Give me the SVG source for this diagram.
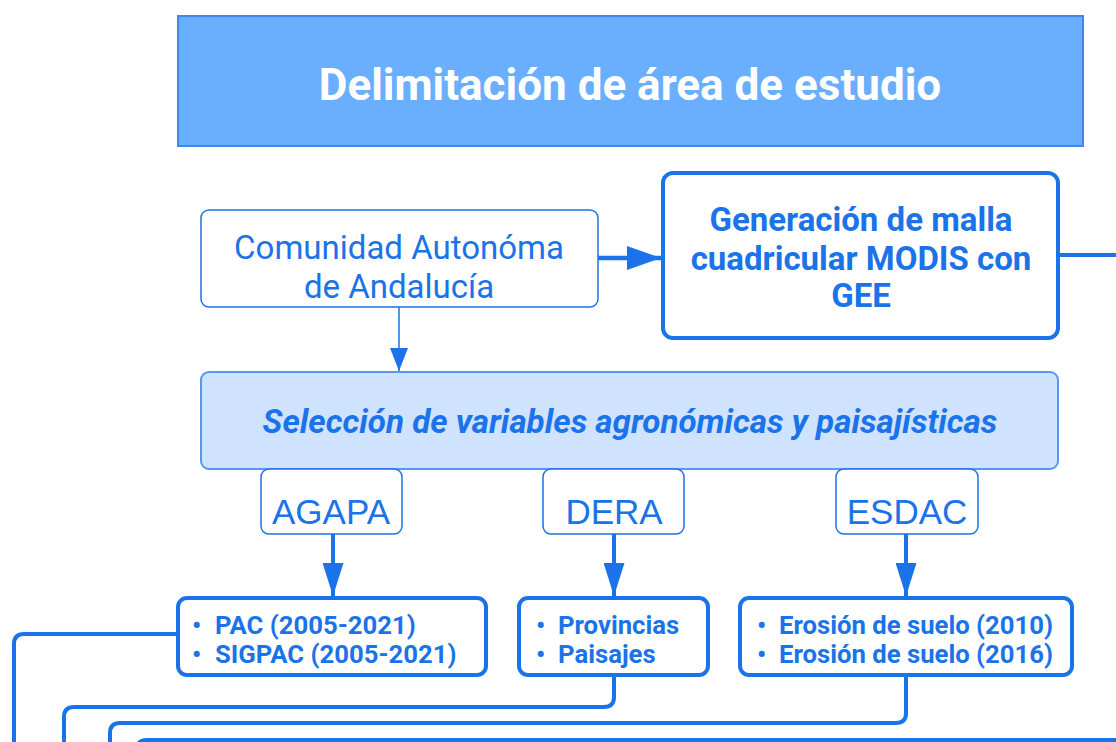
<svg xmlns="http://www.w3.org/2000/svg" width="1116" height="742" viewBox="0 0 1116 742">
<defs>
<style>
.b{fill:#1a73e8;font-family:Roboto,"Liberation Sans",sans-serif}
.bold{font-weight:bold}
.conn{fill:none;stroke:#1a73e8;stroke-linejoin:round}
.box{fill:#fff;stroke:#1a73e8}
.src{font-family:"Liberation Sans",Arial,sans-serif;font-size:35px;fill:#1a73e8}
</style>
<marker id="ahL" viewBox="0 0 10 10" refX="10" refY="5" markerWidth="34" markerHeight="24" markerUnits="userSpaceOnUse" orient="auto" preserveAspectRatio="none">
<path d="M0,0 L10,5 L0,10 z" fill="#1a73e8"/>
</marker>
<marker id="ahM" viewBox="0 0 10 10" refX="10" refY="5" markerWidth="33" markerHeight="21" markerUnits="userSpaceOnUse" orient="auto" preserveAspectRatio="none">
<path d="M0,0 L10,5 L0,10 z" fill="#1a73e8"/>
</marker>
<marker id="ahS" viewBox="0 0 10 10" refX="10" refY="5" markerWidth="23" markerHeight="18" markerUnits="userSpaceOnUse" orient="auto" preserveAspectRatio="none">
<path d="M0,0 L10,5 L0,10 z" fill="#1a73e8"/>
</marker>
</defs>
<rect width="1116" height="742" fill="#fff"/>

<g id="header">
<rect x="178" y="16" width="905" height="130" fill="#6aaffe" stroke="#3d87ee" stroke-width="2"/>
<text x="630" y="100" text-anchor="middle" font-family="Roboto,'Liberation Sans',sans-serif" font-weight="bold" font-size="44" fill="#fff">Delimitación de área de estudio</text>
</g>

<g id="connectors">
<path class="conn" d="M598,258 H661" stroke-width="4.5" marker-end="url(#ahL)"/>
<path class="conn" d="M1060,255 H1116" stroke-width="4"/>
<path class="conn" d="M399,307 V371" stroke-width="1.5" marker-end="url(#ahS)"/>
<path class="conn" d="M333,534 V596" stroke-width="4" marker-end="url(#ahM)"/>
<path class="conn" d="M614,534 V596" stroke-width="4" marker-end="url(#ahM)"/>
<path class="conn" d="M906,534 V596" stroke-width="4" marker-end="url(#ahM)"/>
<path class="conn" d="M178,634 H24 Q14,634 14,644 V742" stroke-width="4"/>
<path class="conn" d="M614,675 V697 Q614,707 604,707 H74 Q64,707 64,717 V742" stroke-width="4"/>
<path class="conn" d="M906,675 V713 Q906,723 896,723 H120 Q110,723 110,733 V742" stroke-width="4"/>
<path class="conn" d="M1116,740 H147 Q137,740 137,750" stroke-width="4"/>
</g>

<g id="comunidad">
<rect class="box" x="201" y="210" width="397" height="97" rx="8" stroke-width="1.5"/>
<text class="b" font-size="33" text-anchor="middle"><tspan x="399" y="259">Comunidad Autonóma</tspan><tspan x="399" y="298">de Andalucía</tspan></text>
</g>

<g id="modis">
<rect class="box" x="663" y="173" width="395" height="165" rx="10" stroke-width="4"/>
<text class="b bold" font-size="33" text-anchor="middle"><tspan x="861" y="231">Generación de malla</tspan><tspan x="861" y="270">cuadricular MODIS con</tspan><tspan x="861" y="307">GEE</tspan></text>
</g>

<g id="seleccion">
<rect x="201" y="372" width="857" height="97" rx="8" fill="#cfe2fe" stroke="#5797f0" stroke-width="2"/>
<text class="b bold" font-size="33.2" font-style="italic" text-anchor="middle" x="630" y="433">Selección de variables agronómicas y paisajísticas</text>
</g>

<g id="agapa">
<rect class="box" x="261" y="469" width="141" height="65" rx="8" stroke-width="1.5" stroke="#4a8ff0"/>
<text class="src" x="331" y="524" text-anchor="middle">AGAPA</text>
</g>
<g id="dera">
<rect class="box" x="543" y="469" width="141" height="65" rx="8" stroke-width="1.5" stroke="#4a8ff0"/>
<text class="src" x="614" y="524" text-anchor="middle">DERA</text>
</g>
<g id="esdac">
<rect class="box" x="836" y="469" width="142" height="65" rx="8" stroke-width="1.5" stroke="#4a8ff0"/>
<text class="src" x="907" y="524" text-anchor="middle">ESDAC</text>
</g>

<g id="pac">
<rect class="box" x="178" y="598" width="308" height="77" rx="9" stroke-width="4"/>
<text class="b bold" font-size="25.7"><tspan x="192" y="634">•</tspan><tspan x="215" y="634">PAC (2005-2021)</tspan><tspan x="192" y="663">•</tspan><tspan x="215" y="663">SIGPAC (2005-2021)</tspan></text>
</g>
<g id="provincias">
<rect class="box" x="519" y="598" width="189" height="77" rx="9" stroke-width="4"/>
<text class="b bold" font-size="25.7"><tspan x="536" y="634">•</tspan><tspan x="558" y="634">Provincias</tspan><tspan x="536" y="663">•</tspan><tspan x="558" y="663">Paisajes</tspan></text>
</g>
<g id="erosion">
<rect class="box" x="740" y="598" width="332" height="77" rx="9" stroke-width="4"/>
<text class="b bold" font-size="25.7"><tspan x="757" y="634">•</tspan><tspan x="779" y="634">Erosión de suelo (2010)</tspan><tspan x="757" y="663">•</tspan><tspan x="779" y="663">Erosión de suelo (2016)</tspan></text>
</g>
</svg>
